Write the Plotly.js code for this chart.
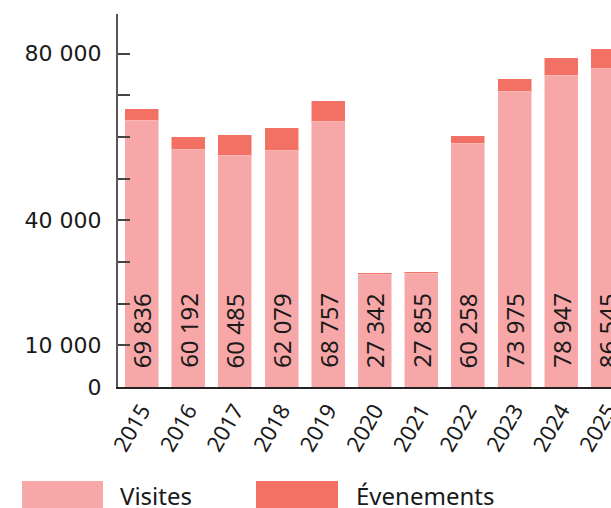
<!DOCTYPE html>
<html>
<head>
<meta charset="utf-8">
<script src="https://cdn.plot.ly/plotly-3.0.1.min.js"></script>
<style>
html,body{margin:0;padding:0;overflow:hidden;background:#fff;}
#chart{width:611px;height:508px;}
</style>
</head>
<body>
<div id="chart"></div>
<script>
// Data
var years = ['2015','2016','2017','2018','2019','2020','2021','2022','2023','2024','2025'];
var visites = [63910, 56950, 55510, 56710, 63670, 26950, 27190, 58390, 70870, 74710, 76390];
var evenements = [2880, 3120, 5040, 5520, 5040, 480, 480, 1920, 3120, 4320, 4800];
var totalLabels = ['69 836','60 192','60 485','62 079','68 757','27 342','27 855','60 258','73 975','78 947','86 545'];
var yTickVals = [0, 10000, 20000, 30000, 40000, 50000, 60000, 70000, 80000];
var yTickText = ['0', '10 000', '', '', '40 000', '', '', '', '80 000'];
var legendNames = ['Visites', 'Évenements'];

var cVisites = '#F7A7A8';
var cEvents = '#F37065';
var fontFam = '"Noto Sans", "Open Sans", sans-serif';

var traces = [
  {type:'bar', x: years, y: visites, name: legendNames[0],
   marker:{color: cVisites, line:{color:'rgba(255,255,255,0.5)', width:1}}, width:0.73, hoverinfo:'skip'},
  {type:'bar', x: years, y: evenements, name: legendNames[1],
   marker:{color: cEvents, line:{color:'rgba(255,255,255,0.5)', width:1}}, width:0.73, hoverinfo:'skip'}
];

// category axis: annotation x is the category index
var annotations = years.map(function(yr, i){
  return {x: i, y: 0, xref:'x', yref:'y', text: totalLabels[i], showarrow:false,
          textangle:-90, xanchor:'center', yanchor:'bottom', yshift:17,
          font:{family: fontFam, size:24, color:'#1a1a1a'}};
});

// Legend (manual, large swatches)
var legendX = [0, 236];
var swatchX = [[-96, -15], [138, 220]];
var shapes = [];
[cVisites, cEvents].forEach(function(c, i){
  shapes.push({type:'rect', xref:'paper', yref:'paper', xsizemode:'pixel', ysizemode:'pixel',
    xanchor:0, yanchor:0, x0: swatchX[i][0], x1: swatchX[i][1], y0:-94, y1:-121,
    fillcolor:c, line:{width:0}});
  annotations.push({xref:'paper', yref:'paper', x:0, y:0, xanchor:'left', yanchor:'middle',
    xshift: legendX[i], yshift:-108, text: legendNames[i], showarrow:false,
    font:{family: fontFam, size:24, color:'#1a1a1a'}});
});

var layout = {
  width:611, height:508,
  margin:{l:118, r:0, t:14, b:121, pad:0},
  paper_bgcolor:'#fff', plot_bgcolor:'#fff',
  barmode:'stack',
  showlegend:false,
  font:{family: fontFam, color:'#1a1a1a'},
  xaxis:{type:'category', range:[-0.51, 10.07], showgrid:false, zeroline:false,
    showline:true, linecolor:'#222', linewidth:2, ticks:'', tickangle:-60,
    tickfont:{family: fontFam, size:22, color:'#1a1a1a'}},
  yaxis:{range:[0, 89500], showgrid:false, zeroline:false, showline:true,
    linecolor:'#555', linewidth:2, ticks:'inside', ticklen:12, tickwidth:2, tickcolor:'#444',
    tickmode:'array', tickvals: yTickVals, ticktext: yTickText, ticklabelstandoff:10,
    tickfont:{family: '"DejaVu Sans", sans-serif', size:22, color:'#1a1a1a'}},
  annotations: annotations,
  shapes: shapes
};

Plotly.newPlot('chart', traces, layout, {displayModeBar:false, staticPlot:true});
</script>
</body>
</html>
